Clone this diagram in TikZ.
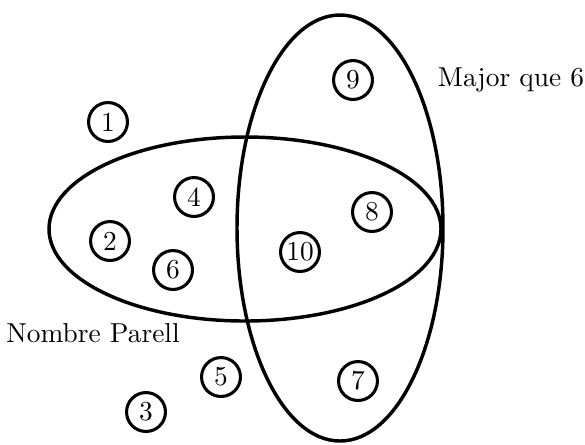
\documentclass[tikz,border=0pt]{standalone}
\begin{document}
\begin{tikzpicture}[x=0.3906pt,y=-0.3906pt,
  every node/.style={font=\fontsize{10.7pt}{13pt}\selectfont},
  setline/.style={line width=1.35pt},
  num/.style={circle,draw,line width=1.2pt,minimum size=15.2pt,inner sep=0.5pt},
  lbl/.style={inner sep=0pt}]
\useasboundingbox (0,0) rectangle (585,444);
% the two sets
\draw[setline] (245,229) ellipse [x radius=196, y radius=92];
\draw[setline] (340,228) ellipse [x radius=103, y radius=213];
% set labels
\node[lbl] (major) at (511,80) {Major que 6};
\node[lbl] (parell) at (93,333) {Nombre Parell};
% elements
\node[num] (n1) at (108,122) {1};
\node[num] (n2) at (110,241) {2};
\node[num] (n3) at (146,412) {3};
\node[num] (n4) at (194,197) {4};
\node[num] (n5) at (221,377) {5};
\node[num] (n6) at (173,270) {6};
\node[num] (n7) at (358,381) {7};
\node[num] (n8) at (372,212) {8};
\node[num] (n9) at (353,80) {9};
\node[num] (n10) at (300,252) {10};
\end{tikzpicture}
\end{document}
